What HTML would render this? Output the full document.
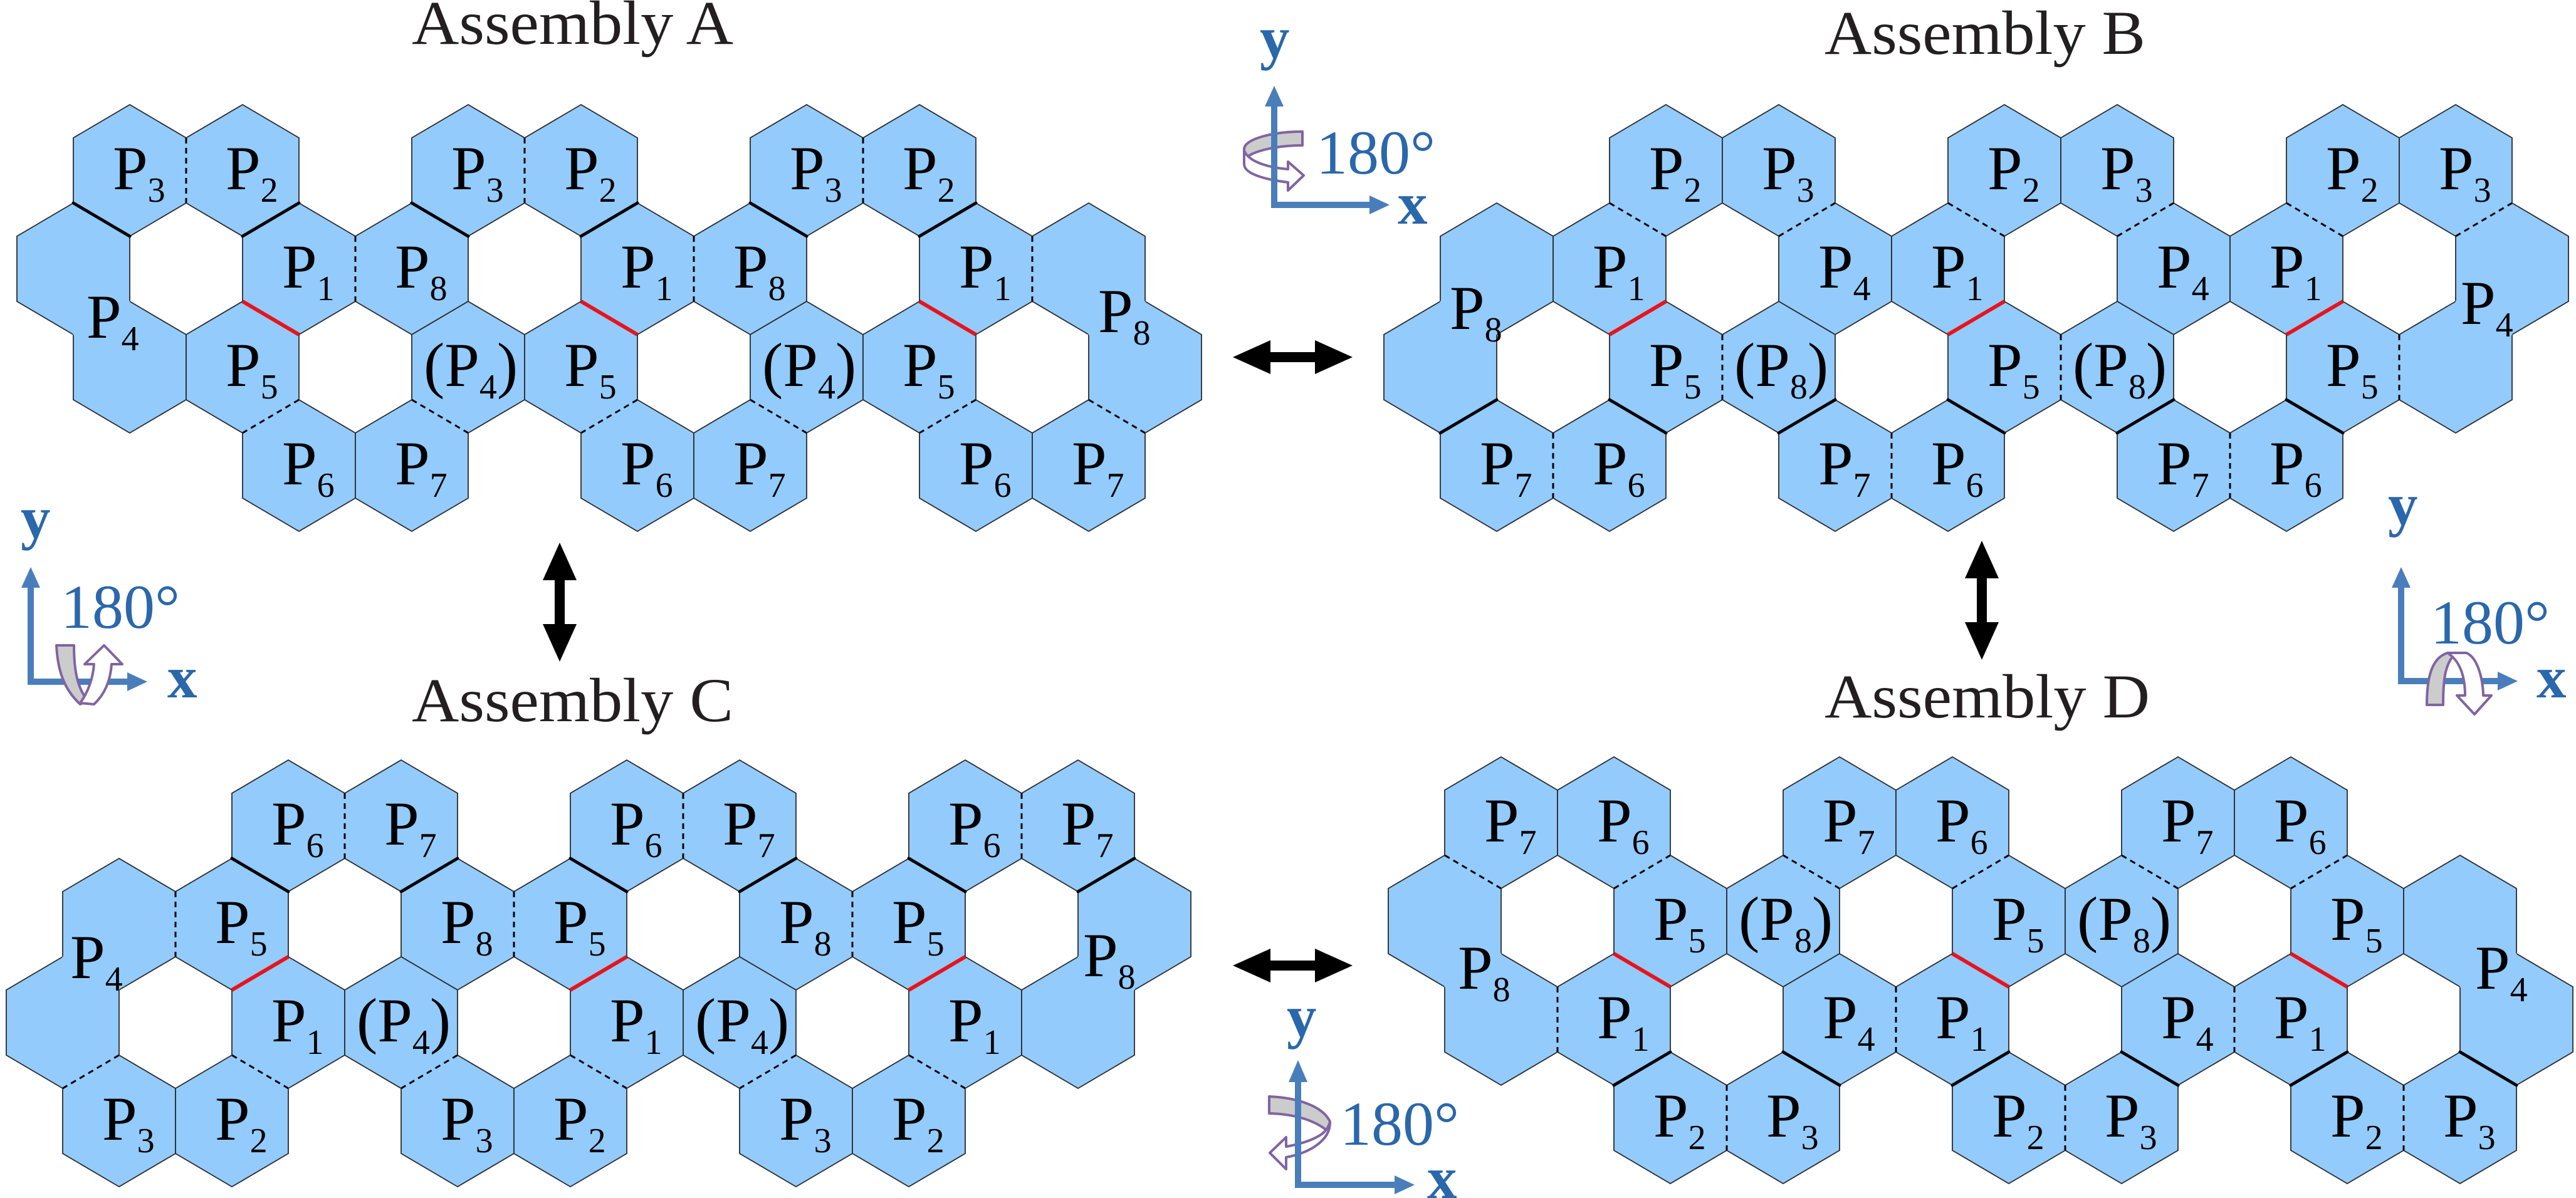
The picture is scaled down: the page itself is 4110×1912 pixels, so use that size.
<!DOCTYPE html>
<html><head><meta charset="utf-8">
<style>
html,body{margin:0;padding:0;background:#fff;}
svg{display:block;}
.L{font-family:"Liberation Serif","DejaVu Serif","Times New Roman",serif;font-size:100px;fill:#000;}
.s{font-size:56px;}
.T{font-family:"Liberation Serif","DejaVu Serif","Times New Roman",serif;font-size:100px;fill:#231f20;}
.ax{font-family:"Liberation Serif","DejaVu Serif","Times New Roman",serif;font-size:95px;font-weight:bold;fill:#2a67ab;}
.dg{font-family:"Liberation Serif","DejaVu Serif","Times New Roman",serif;font-size:100px;fill:#2a67ab;}
</style></head>
<body>
<svg width="4110" height="1912" viewBox="0 0 4110 1912" xmlns="http://www.w3.org/2000/svg">
<defs><polygon id="h" points="0,-105 90,-52 90,52 0,105 -90,52 -90,-52"/></defs>
<rect width="4110" height="1912" fill="#fff"/>

<g fill="#93cbfc" stroke="#2a2a2a" stroke-width="1.8">
<use href="#h" x="207" y="272"/><use href="#h" x="387" y="272"/><use href="#h" x="747" y="272"/><use href="#h" x="927" y="272"/><use href="#h" x="1287" y="272"/><use href="#h" x="1467" y="272"/>
<use href="#h" x="117" y="429"/><use href="#h" x="477" y="429"/><use href="#h" x="657" y="429"/><use href="#h" x="1017" y="429"/><use href="#h" x="1197" y="429"/><use href="#h" x="1557" y="429"/><use href="#h" x="1737" y="429"/>
<use href="#h" x="207" y="586"/><use href="#h" x="387" y="586"/><use href="#h" x="747" y="586"/><use href="#h" x="927" y="586"/><use href="#h" x="1287" y="586"/><use href="#h" x="1467" y="586"/><use href="#h" x="1827" y="586"/>
<use href="#h" x="477" y="743"/><use href="#h" x="657" y="743"/><use href="#h" x="1017" y="743"/><use href="#h" x="1197" y="743"/><use href="#h" x="1557" y="743"/><use href="#h" x="1737" y="743"/>
<use href="#h" x="2658" y="272"/><use href="#h" x="2838" y="272"/><use href="#h" x="3198" y="272"/><use href="#h" x="3378" y="272"/><use href="#h" x="3738" y="272"/><use href="#h" x="3918" y="272"/>
<use href="#h" x="2388" y="429"/><use href="#h" x="2568" y="429"/><use href="#h" x="2928" y="429"/><use href="#h" x="3108" y="429"/><use href="#h" x="3468" y="429"/><use href="#h" x="3648" y="429"/><use href="#h" x="4008" y="429"/>
<use href="#h" x="2298" y="586"/><use href="#h" x="2658" y="586"/><use href="#h" x="2838" y="586"/><use href="#h" x="3198" y="586"/><use href="#h" x="3378" y="586"/><use href="#h" x="3738" y="586"/><use href="#h" x="3918" y="586"/>
<use href="#h" x="2388" y="743"/><use href="#h" x="2568" y="743"/><use href="#h" x="2928" y="743"/><use href="#h" x="3108" y="743"/><use href="#h" x="3468" y="743"/><use href="#h" x="3648" y="743"/>
<use href="#h" x="460" y="1318"/><use href="#h" x="640" y="1318"/><use href="#h" x="1000" y="1318"/><use href="#h" x="1180" y="1318"/><use href="#h" x="1540" y="1318"/><use href="#h" x="1720" y="1318"/>
<use href="#h" x="190" y="1475"/><use href="#h" x="370" y="1475"/><use href="#h" x="730" y="1475"/><use href="#h" x="910" y="1475"/><use href="#h" x="1270" y="1475"/><use href="#h" x="1450" y="1475"/><use href="#h" x="1810" y="1475"/>
<use href="#h" x="100" y="1632"/><use href="#h" x="460" y="1632"/><use href="#h" x="640" y="1632"/><use href="#h" x="1000" y="1632"/><use href="#h" x="1180" y="1632"/><use href="#h" x="1540" y="1632"/><use href="#h" x="1720" y="1632"/>
<use href="#h" x="190" y="1789"/><use href="#h" x="370" y="1789"/><use href="#h" x="730" y="1789"/><use href="#h" x="910" y="1789"/><use href="#h" x="1270" y="1789"/><use href="#h" x="1450" y="1789"/>
<use href="#h" x="2395" y="1313"/><use href="#h" x="2575" y="1313"/><use href="#h" x="2935" y="1313"/><use href="#h" x="3115" y="1313"/><use href="#h" x="3475" y="1313"/><use href="#h" x="3655" y="1313"/>
<use href="#h" x="2305" y="1470"/><use href="#h" x="2665" y="1470"/><use href="#h" x="2845" y="1470"/><use href="#h" x="3205" y="1470"/><use href="#h" x="3385" y="1470"/><use href="#h" x="3745" y="1470"/><use href="#h" x="3925" y="1470"/>
<use href="#h" x="2395" y="1627"/><use href="#h" x="2575" y="1627"/><use href="#h" x="2935" y="1627"/><use href="#h" x="3115" y="1627"/><use href="#h" x="3475" y="1627"/><use href="#h" x="3655" y="1627"/><use href="#h" x="4015" y="1627"/>
<use href="#h" x="2665" y="1784"/><use href="#h" x="2845" y="1784"/><use href="#h" x="3205" y="1784"/><use href="#h" x="3385" y="1784"/><use href="#h" x="3745" y="1784"/><use href="#h" x="3925" y="1784"/>
</g>

<path fill="none" stroke="#93cbfc" stroke-width="5" d="
M207,481L117,534 M1827,481L1737,534
M2298,481L2388,534 M3918,481L4008,534
M100,1527L190,1580 M1720,1527L1810,1580
M2395,1522L2305,1575 M4015,1522L3925,1575
M297,220L297,324 M567,377L567,481 M477,638L387,691 M657,638L747,691
M837,220L837,324 M1107,377L1107,481 M1017,638L927,691 M1197,638L1287,691
M1377,220L1377,324 M1647,377L1647,481 M1557,638L1467,691 M1737,638L1827,691
M2568,324L2658,377 M2838,377L2928,324 M2748,534L2748,638 M2478,691L2478,795
M3108,324L3198,377 M3378,377L3468,324 M3288,534L3288,638 M3018,691L3018,795
M3648,324L3738,377 M3918,377L4008,324 M3828,534L3828,638 M3558,691L3558,795
M550,1266L550,1370 M280,1423L280,1527 M190,1684L100,1737 M370,1684L460,1737
M1090,1266L1090,1370 M820,1423L820,1527 M730,1684L640,1737 M910,1684L1000,1737
M1630,1266L1630,1370 M1360,1423L1360,1527 M1270,1684L1180,1737 M1450,1684L1540,1737
M2305,1365L2395,1418 M2575,1418L2665,1365 M2485,1575L2485,1679 M2755,1732L2755,1836
M2845,1365L2935,1418 M3115,1418L3205,1365 M3025,1575L3025,1679 M3295,1732L3295,1836
M3385,1365L3475,1418 M3655,1418L3745,1365 M3565,1575L3565,1679 M3835,1732L3835,1836"/>

<path fill="none" stroke="#000" stroke-width="3" stroke-dasharray="9,7" d="
M297,220L297,324 M567,377L567,481 M477,638L387,691 M657,638L747,691
M837,220L837,324 M1107,377L1107,481 M1017,638L927,691 M1197,638L1287,691
M1377,220L1377,324 M1647,377L1647,481 M1557,638L1467,691 M1737,638L1827,691
M2568,324L2658,377 M2838,377L2928,324 M2748,534L2748,638 M2478,691L2478,795
M3108,324L3198,377 M3378,377L3468,324 M3288,534L3288,638 M3018,691L3018,795
M3648,324L3738,377 M3918,377L4008,324 M3828,534L3828,638 M3558,691L3558,795
M550,1266L550,1370 M280,1423L280,1527 M190,1684L100,1737 M370,1684L460,1737
M1090,1266L1090,1370 M820,1423L820,1527 M730,1684L640,1737 M910,1684L1000,1737
M1630,1266L1630,1370 M1360,1423L1360,1527 M1270,1684L1180,1737 M1450,1684L1540,1737
M2305,1365L2395,1418 M2575,1418L2665,1365 M2485,1575L2485,1679 M2755,1732L2755,1836
M2845,1365L2935,1418 M3115,1418L3205,1365 M3025,1575L3025,1679 M3295,1732L3295,1836
M3385,1365L3475,1418 M3655,1418L3745,1365 M3565,1575L3565,1679 M3835,1732L3835,1836"/>

<path fill="none" stroke="#000" stroke-width="5" stroke-linecap="round" d="
M117,324L207,377 M387,377L477,324 M657,324L747,377 M927,377L1017,324 M1197,324L1287,377 M1467,377L1557,324
M2388,638L2298,691 M2568,638L2658,691 M2928,638L2838,691 M3108,638L3198,691 M3468,638L3378,691 M3648,638L3738,691
M370,1370L460,1423 M640,1423L730,1370 M910,1370L1000,1423 M1180,1423L1270,1370 M1450,1370L1540,1423 M1720,1423L1810,1370
M2665,1679L2575,1732 M2845,1679L2935,1732 M3205,1679L3115,1732 M3385,1679L3475,1732 M3745,1679L3655,1732 M3925,1679L4015,1732"/>

<path fill="none" stroke="#e8141b" stroke-width="6" d="
M387,481L477,534 M927,481L1017,534 M1467,481L1557,534
M2658,481L2568,534 M3198,481L3108,534 M3738,481L3648,534
M370,1580L460,1527 M910,1580L1000,1527 M1450,1580L1540,1527
M2575,1522L2665,1575 M3115,1522L3205,1575 M3655,1522L3745,1575"/>

<g font-family="Liberation Serif, DejaVu Serif, Times New Roman, serif">
<text class="T" x="657" y="70" textLength="513" lengthAdjust="spacingAndGlyphs">Assembly  A</text>
<text class="T" x="2911" y="86" textLength="512" lengthAdjust="spacingAndGlyphs">Assembly  B</text>
<text class="T" x="657" y="1151" textLength="513" lengthAdjust="spacingAndGlyphs">Assembly  C</text>
<text class="T" x="2911" y="1145" textLength="519" lengthAdjust="spacingAndGlyphs">Assembly  D</text>
</g>

<g class="L" font-family="Liberation Serif, DejaVu Serif, Times New Roman, serif">
<text x="180" y="302">P<tspan class="s" dy="20">3</tspan></text>
<text x="360" y="302">P<tspan class="s" dy="20">2</tspan></text>
<text x="720" y="302">P<tspan class="s" dy="20">3</tspan></text>
<text x="900" y="302">P<tspan class="s" dy="20">2</tspan></text>
<text x="1260" y="302">P<tspan class="s" dy="20">3</tspan></text>
<text x="1440" y="302">P<tspan class="s" dy="20">2</tspan></text>
<text x="450" y="459">P<tspan class="s" dy="20">1</tspan></text>
<text x="630" y="459">P<tspan class="s" dy="20">8</tspan></text>
<text x="990" y="459">P<tspan class="s" dy="20">1</tspan></text>
<text x="1170" y="459">P<tspan class="s" dy="20">8</tspan></text>
<text x="1530" y="459">P<tspan class="s" dy="20">1</tspan></text>
<text x="360" y="616">P<tspan class="s" dy="20">5</tspan></text>
<text x="676" y="616">(P<tspan class="s" dy="20">4</tspan><tspan dy="-20">)</tspan></text>
<text x="900" y="616">P<tspan class="s" dy="20">5</tspan></text>
<text x="1216" y="616">(P<tspan class="s" dy="20">4</tspan><tspan dy="-20">)</tspan></text>
<text x="1440" y="616">P<tspan class="s" dy="20">5</tspan></text>
<text x="450" y="773">P<tspan class="s" dy="20">6</tspan></text>
<text x="630" y="773">P<tspan class="s" dy="20">7</tspan></text>
<text x="990" y="773">P<tspan class="s" dy="20">6</tspan></text>
<text x="1170" y="773">P<tspan class="s" dy="20">7</tspan></text>
<text x="1530" y="773">P<tspan class="s" dy="20">6</tspan></text>
<text x="1710" y="773">P<tspan class="s" dy="20">7</tspan></text>
<text x="138" y="539">P<tspan class="s" dy="20">4</tspan></text>
<text x="1752" y="530">P<tspan class="s" dy="20">8</tspan></text>

<text x="2631" y="302">P<tspan class="s" dy="20">2</tspan></text>
<text x="2811" y="302">P<tspan class="s" dy="20">3</tspan></text>
<text x="3171" y="302">P<tspan class="s" dy="20">2</tspan></text>
<text x="3351" y="302">P<tspan class="s" dy="20">3</tspan></text>
<text x="3711" y="302">P<tspan class="s" dy="20">2</tspan></text>
<text x="3891" y="302">P<tspan class="s" dy="20">3</tspan></text>
<text x="2541" y="459">P<tspan class="s" dy="20">1</tspan></text>
<text x="2901" y="459">P<tspan class="s" dy="20">4</tspan></text>
<text x="3081" y="459">P<tspan class="s" dy="20">1</tspan></text>
<text x="3441" y="459">P<tspan class="s" dy="20">4</tspan></text>
<text x="3621" y="459">P<tspan class="s" dy="20">1</tspan></text>
<text x="2631" y="616">P<tspan class="s" dy="20">5</tspan></text>
<text x="2767" y="616">(P<tspan class="s" dy="20">8</tspan><tspan dy="-20">)</tspan></text>
<text x="3171" y="616">P<tspan class="s" dy="20">5</tspan></text>
<text x="3307" y="616">(P<tspan class="s" dy="20">8</tspan><tspan dy="-20">)</tspan></text>
<text x="3711" y="616">P<tspan class="s" dy="20">5</tspan></text>
<text x="2361" y="773">P<tspan class="s" dy="20">7</tspan></text>
<text x="2541" y="773">P<tspan class="s" dy="20">6</tspan></text>
<text x="2901" y="773">P<tspan class="s" dy="20">7</tspan></text>
<text x="3081" y="773">P<tspan class="s" dy="20">6</tspan></text>
<text x="3441" y="773">P<tspan class="s" dy="20">7</tspan></text>
<text x="3621" y="773">P<tspan class="s" dy="20">6</tspan></text>
<text x="2313" y="525">P<tspan class="s" dy="20">8</tspan></text>
<text x="3926" y="517">P<tspan class="s" dy="20">4</tspan></text>

<text x="433" y="1348">P<tspan class="s" dy="20">6</tspan></text>
<text x="613" y="1348">P<tspan class="s" dy="20">7</tspan></text>
<text x="973" y="1348">P<tspan class="s" dy="20">6</tspan></text>
<text x="1153" y="1348">P<tspan class="s" dy="20">7</tspan></text>
<text x="1513" y="1348">P<tspan class="s" dy="20">6</tspan></text>
<text x="1693" y="1348">P<tspan class="s" dy="20">7</tspan></text>
<text x="343" y="1505">P<tspan class="s" dy="20">5</tspan></text>
<text x="703" y="1505">P<tspan class="s" dy="20">8</tspan></text>
<text x="883" y="1505">P<tspan class="s" dy="20">5</tspan></text>
<text x="1243" y="1505">P<tspan class="s" dy="20">8</tspan></text>
<text x="1423" y="1505">P<tspan class="s" dy="20">5</tspan></text>
<text x="433" y="1662">P<tspan class="s" dy="20">1</tspan></text>
<text x="569" y="1662">(P<tspan class="s" dy="20">4</tspan><tspan dy="-20">)</tspan></text>
<text x="973" y="1662">P<tspan class="s" dy="20">1</tspan></text>
<text x="1109" y="1662">(P<tspan class="s" dy="20">4</tspan><tspan dy="-20">)</tspan></text>
<text x="1513" y="1662">P<tspan class="s" dy="20">1</tspan></text>
<text x="163" y="1819">P<tspan class="s" dy="20">3</tspan></text>
<text x="343" y="1819">P<tspan class="s" dy="20">2</tspan></text>
<text x="703" y="1819">P<tspan class="s" dy="20">3</tspan></text>
<text x="883" y="1819">P<tspan class="s" dy="20">2</tspan></text>
<text x="1243" y="1819">P<tspan class="s" dy="20">3</tspan></text>
<text x="1423" y="1819">P<tspan class="s" dy="20">2</tspan></text>
<text x="112" y="1561">P<tspan class="s" dy="20">4</tspan></text>
<text x="1728" y="1558">P<tspan class="s" dy="20">8</tspan></text>

<text x="2368" y="1343">P<tspan class="s" dy="20">7</tspan></text>
<text x="2548" y="1343">P<tspan class="s" dy="20">6</tspan></text>
<text x="2908" y="1343">P<tspan class="s" dy="20">7</tspan></text>
<text x="3088" y="1343">P<tspan class="s" dy="20">6</tspan></text>
<text x="3448" y="1343">P<tspan class="s" dy="20">7</tspan></text>
<text x="3628" y="1343">P<tspan class="s" dy="20">6</tspan></text>
<text x="2638" y="1500">P<tspan class="s" dy="20">5</tspan></text>
<text x="2774" y="1500">(P<tspan class="s" dy="20">8</tspan><tspan dy="-20">)</tspan></text>
<text x="3178" y="1500">P<tspan class="s" dy="20">5</tspan></text>
<text x="3314" y="1500">(P<tspan class="s" dy="20">8</tspan><tspan dy="-20">)</tspan></text>
<text x="3718" y="1500">P<tspan class="s" dy="20">5</tspan></text>
<text x="2548" y="1657">P<tspan class="s" dy="20">1</tspan></text>
<text x="2908" y="1657">P<tspan class="s" dy="20">4</tspan></text>
<text x="3088" y="1657">P<tspan class="s" dy="20">1</tspan></text>
<text x="3448" y="1657">P<tspan class="s" dy="20">4</tspan></text>
<text x="3628" y="1657">P<tspan class="s" dy="20">1</tspan></text>
<text x="2638" y="1814">P<tspan class="s" dy="20">2</tspan></text>
<text x="2818" y="1814">P<tspan class="s" dy="20">3</tspan></text>
<text x="3178" y="1814">P<tspan class="s" dy="20">2</tspan></text>
<text x="3358" y="1814">P<tspan class="s" dy="20">3</tspan></text>
<text x="3718" y="1814">P<tspan class="s" dy="20">2</tspan></text>
<text x="3898" y="1814">P<tspan class="s" dy="20">3</tspan></text>
<text x="2326" y="1578">P<tspan class="s" dy="20">8</tspan></text>
<text x="3949" y="1578">P<tspan class="s" dy="20">4</tspan></text>
</g>

<g fill="#000">
<polygon points="1967,570 2027,543 2027,562 2098,562 2098,543 2158,570 2098,597 2098,578 2027,578 2027,597"/>
<polygon points="1967,1541 2027,1514 2027,1533 2098,1533 2098,1514 2158,1541 2098,1568 2098,1549 2027,1549 2027,1568"/>
<polygon points="893,866 866,926 885,926 885,996 866,996 893,1056 920,996 901,996 901,926 920,926"/>
<polygon points="3162,863 3135,923 3154,923 3154,993 3135,993 3162,1053 3189,993 3170,993 3170,923 3189,923"/>
</g>

<g stroke="#8064a2" stroke-width="4" stroke-linejoin="round">
<path fill="#cccccc" d="M2078,210 C2030,210 1985,222 1985,238 L1985,256 C1990,244 2030,232 2078,232 Z"/>
<path fill="#fff" d="M1985,240 L1985,262 C1985,280 2030,288 2055,291 L2055,304 L2080,280 L2055,258 L2055,270 C2030,268 1992,260 1985,240 Z"/>
</g>
<g fill="#4a7ebb" stroke="none">
<rect x="2028" y="165" width="10" height="167"/>
<polygon points="2033,137 2018,170 2048,170"/>
<rect x="2028" y="322" width="162" height="10"/>
<polygon points="2217,327 2185,312 2185,342"/>
</g>
<g font-family="Liberation Serif, DejaVu Serif, Times New Roman, serif">
<text class="ax" x="2010" y="92">y</text>
<text class="ax" x="2230" y="357">x</text>
<text class="dg" x="2100" y="277">180°</text>
</g>

<g fill="#4a7ebb">
<rect x="44" y="935" width="10" height="158"/>
<polygon points="49,905 34,938 64,938"/>
<rect x="44" y="1083" width="161" height="10"/>
<polygon points="235,1088 203,1073 203,1103"/>
</g>
<g stroke="#8064a2" stroke-width="4" stroke-linejoin="round">
<path fill="#cccccc" d="M90,1030 L118,1030 C118,1075 125,1100 140,1118 L128,1124 C102,1100 92,1070 90,1030 Z"/>
<path fill="#fff" d="M128,1122 C140,1105 148,1085 150,1060 L135,1060 L166,1030 L195,1060 L178,1060 C176,1090 165,1110 150,1124 Z"/>
</g>
<g font-family="Liberation Serif, DejaVu Serif, Times New Roman, serif">
<text class="ax" x="33" y="858">y</text>
<text class="ax" x="267" y="1113">x</text>
<text class="dg" x="97" y="1002">180°</text>
</g>

<g fill="#4a7ebb">
<rect x="3826" y="935" width="10" height="157"/>
<polygon points="3831,905 3816,938 3846,938"/>
<rect x="3826" y="1082" width="161" height="10"/>
<polygon points="4017,1087 3985,1072 3985,1102"/>
</g>
<g stroke="#8064a2" stroke-width="4" stroke-linejoin="round">
<path fill="#cccccc" d="M3872,1125 C3872,1080 3880,1050 3905,1042 L3915,1046 C3900,1062 3898,1090 3898,1125 Z"/>
<path fill="#fff" d="M3905,1042 L3935,1042 C3955,1050 3962,1090 3962,1110 L3975,1110 L3948,1140 L3920,1110 L3933,1110 C3933,1080 3925,1055 3905,1042 Z"/>
</g>
<g font-family="Liberation Serif, DejaVu Serif, Times New Roman, serif">
<text class="ax" x="3810" y="837">y</text>
<text class="ax" x="4047" y="1113">x</text>
<text class="dg" x="3878" y="1027">180°</text>
</g>

<g stroke="#8064a2" stroke-width="4" stroke-linejoin="round">
<path fill="#cccccc" d="M2025,1750 C2070,1752 2110,1765 2122,1790 L2118,1805 C2100,1790 2070,1778 2025,1777 Z"/>
<path fill="#fff" d="M2122,1792 C2122,1820 2090,1840 2052,1847 L2052,1866 L2026,1840 L2052,1815 L2052,1830 C2080,1825 2110,1815 2118,1800 Z"/>
</g>
<g fill="#4a7ebb">
<rect x="2066" y="1722" width="10" height="174"/>
<polygon points="2071,1692 2056,1727 2086,1727"/>
<rect x="2066" y="1886" width="161" height="10"/>
<polygon points="2257,1891 2225,1876 2225,1906"/>
</g>
<g font-family="Liberation Serif, DejaVu Serif, Times New Roman, serif">
<text class="ax" x="2053" y="1654">y</text>
<text class="ax" x="2277" y="1912">x</text>
<text class="dg" x="2138" y="1827">180°</text>
</g>
</svg>
</body></html>
